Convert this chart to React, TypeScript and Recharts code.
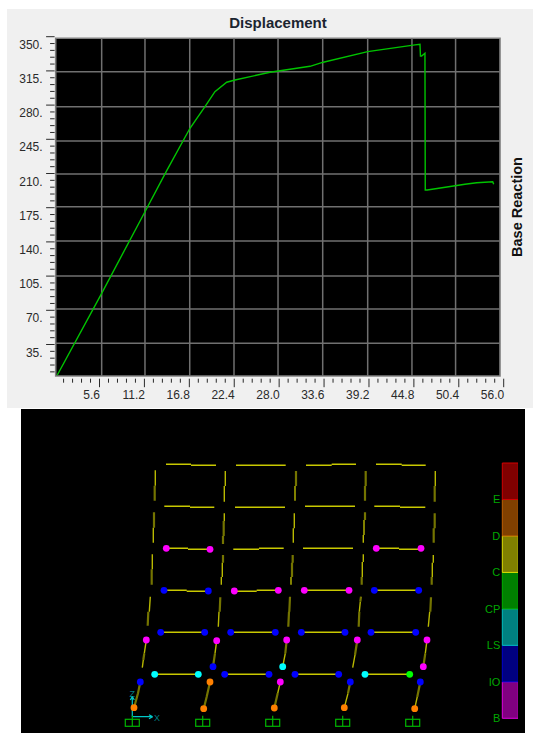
import React from "react";
import {
  Bar,
  BarChart,
  ComposedChart,
  Line,
  LineChart,
  ReferenceArea,
  ReferenceLine,
  Scatter,
  XAxis,
  YAxis,
} from "recharts";

// ---------- pushover curve ----------
const displacement = [0.34, 5.87, 11.27, 13.98, 16.88, 18.75, 19.99, 21.46, 22.49, 26.86, 31.85, 33.5, 39.04, 44.94, 45.56, 45.62, 45.77, 46.18, 46.22, 46.47, 51.17, 52.63, 54.63, 54.75];
const baseReaction = [3.8, 87.4, 170.9, 212.9, 256.3, 278.4, 293.8, 303.4, 305.7, 313.6, 319.7, 323.9, 334.7, 341.6, 342.3, 330.3, 330.3, 333, 193.1, 193.1, 199, 200.6, 201.6, 199];

const xTicks = [1.12, 2.24, 3.36, 4.48, 5.6, 6.72, 7.84, 8.96, 10.08, 11.2, 12.32, 13.44, 14.56, 15.68, 16.8, 17.92, 19.04, 20.16, 21.28, 22.4, 23.52, 24.64, 25.76, 26.88, 28, 29.12, 30.24, 31.36, 32.48, 33.6, 34.72, 35.84, 36.96, 38.08, 39.2, 40.32, 41.44, 42.56, 43.68, 44.8, 45.92, 47.04, 48.16, 49.28, 50.4, 51.52, 52.64, 53.76, 54.88, 56];
const xLabels = ["5.6", "11.2", "16.8", "22.4", "28.0", "33.6", "39.2", "44.8", "50.4", "56.0"];
const yTicks = [7, 14, 21, 28, 35, 42, 49, 56, 63, 70, 77, 84, 91, 98, 105, 112, 119, 126, 133, 140, 147, 154, 161, 168, 175, 182, 189, 196, 203, 210, 217, 224, 231, 238, 245, 252, 259, 266, 273, 280, 287, 294, 301, 308, 315, 322, 329, 336, 343, 350];
const gridX = [5.87, 11.27, 16.85, 22.37, 27.86, 33.43, 39.04, 44.56, 50.0];
const gridY = [36.2, 71.3, 105.1, 140.9, 176, 209.5, 243.3, 278.4, 314.2];
const plotX: [number, number] = [0.137, 55.54];
const plotY: [number, number] = [2.76, 348.4];

const curve = displacement.map((x, i) => ({ x, y: baseReaction[i] }));

// ---------- frame drawing (units: picture read-off) ----------
type Seg = [number, number, number, number];
const beams: Seg[] = [
  [166, 464.3, 191, 464.3], [191, 465.3, 216, 465.3], [236, 465.3, 285.7, 465.3], [306, 465.3, 331.7, 465.3], [331.7, 464.3, 356, 464.3], [376, 464.3, 401.7, 464.3], [401.7, 465.3, 425.7, 465.3],
  [164.3, 506.3, 190, 506.3], [190, 507.3, 214.3, 507.3], [235, 507.3, 285, 507.3], [305, 506.3, 355, 506.3], [374.3, 506.3, 400, 506.3], [400, 507.3, 425.3, 507.3],
  [166.3, 548.3, 188, 548.3], [188, 549.3, 210, 549.3], [233.3, 549.3, 259, 549.3], [259, 548.3, 283.7, 548.3], [303, 548.3, 353, 548.3], [376.3, 548.3, 399, 548.3], [399, 549.3, 421, 549.3],
  [164, 590.3, 186.7, 590.3], [186.7, 591.3, 208.3, 591.3], [234.3, 591.3, 256.7, 591.3], [256.7, 590.3, 278.3, 590.3], [304.3, 590.3, 349, 590.3], [374.3, 590.3, 418.7, 590.3],
  [160.7, 632.3, 204.7, 632.3], [230.7, 632.3, 275.3, 632.3], [301.3, 632.3, 345, 632.3], [371, 632.3, 415.7, 632.3],
  [154.7, 674.3, 198.3, 674.3], [224.7, 674.3, 269, 674.3], [295, 674.3, 338.7, 674.3], [365, 674.3, 409.7, 674.3],
];
const columnsBright: Seg[] = [
  [155.3, 470.3, 155.3, 485.7], [153.3, 527.7, 153.3, 542.7], [152.3, 554.3, 152.3, 569.3], [150.3, 596.7, 149.3, 611.7], [146.3, 640, 144.3, 653.3], [143.3, 660, 142.3, 667.7],
  [225.3, 471, 225.3, 486], [224.3, 486, 224.3, 501.7], [224.3, 513.3, 224.3, 521], [222.3, 562.7, 222.3, 577], [221.3, 577, 221.3, 584.7], [219, 611.7, 218.3, 626.7], [216.7, 640.7, 215, 653.3],
  [295, 486, 295, 500.7], [294.3, 513.3, 294.3, 528.3], [293.3, 528.3, 293.3, 542.7], [291, 577, 291, 584.7], [285.3, 653.3, 282.7, 666.7], [280.3, 682, 277.7, 693.3],
  [364, 520, 364, 535], [363.3, 535, 363.3, 542.7], [363.3, 554.3, 363.3, 562], [362.3, 562, 362.3, 577], [360.3, 601.7, 359.3, 611.7], [355, 655, 352.7, 667.7], [348, 693.3, 344.3, 707.7],
  [435.3, 471, 435.3, 486], [433.3, 555, 433.3, 562.7], [432.3, 562.7, 432.3, 577], [429.7, 611.7, 428.3, 626.7], [427, 640, 425.3, 653.3], [417.3, 696.7, 414.7, 708.7],
];
const columnsDark: Seg[] = [
  [154.7, 485.7, 154.7, 500.7], [154, 512.3, 154, 527.7], [151.7, 569.3, 151.7, 584.7], [148.3, 611.7, 147.7, 625.7], [144.3, 653.3, 143.3, 660], [140.3, 682, 138, 693.3], [138, 693.3, 134, 707.7],
  [223.7, 521, 223.7, 536], [223, 536, 223, 544], [223, 555, 223, 562.7], [220.3, 597.3, 219.7, 611.7], [215, 653.3, 213, 666.7], [210, 682, 206.7, 696.7], [206.7, 696.7, 203.7, 708.7],
  [296, 471, 296, 486], [292.7, 555, 292.7, 562.7], [292, 562.7, 292, 577], [290, 596.7, 289.3, 611.7], [289, 611.7, 288.3, 626.7], [286.7, 640, 285.3, 653.3], [277.7, 693.3, 274.3, 708],
  [365.7, 471, 365.7, 486], [365, 486, 365, 500.7], [365, 512.3, 365, 520], [361.7, 577, 361.7, 584.7], [361, 596.7, 360.3, 601.7], [359.3, 611.7, 358.7, 626.7], [357.3, 640, 355, 655], [350.3, 682, 348, 693.3],
  [434.7, 486, 434.7, 501.7], [434.7, 513.3, 434.7, 528.3], [433.7, 528.3, 433.7, 542.7], [431.7, 577, 431.7, 584.7], [431, 597.3, 430.3, 611.7], [425.3, 653.3, 423.3, 666.7], [420.3, 682, 417.3, 696.7],
];
const triad: Seg[] = [
  [132.3, 716.7, 132.3, 696.7], [132.3, 716.7, 152.7, 716.7],
  [130.3, 700, 132.3, 696.5], [134.3, 700, 132.3, 696.5],
  [149, 714.7, 152.7, 716.7], [149, 718.7, 152.7, 716.7],
];

type Pt = [number, number];
const magentaNodes: Pt[] = [[166.3, 548.3], [210, 549.3], [376.3, 548.3], [421, 548.3], [234.3, 591], [278.3, 590.3], [304.3, 590.3], [349, 590.3], [146.3, 640], [216.7, 640.7], [286.7, 640], [357.3, 640], [427, 640], [423.3, 666.7], [280.3, 682]];
const blueNodes: Pt[] = [[164, 590.3], [208.3, 591], [374.3, 590.3], [418.7, 590.3], [160.7, 632.3], [204.7, 632.3], [230.7, 632.3], [275.3, 632.3], [301.3, 632.3], [345, 632.3], [371, 632.3], [415.7, 632.3], [224.7, 674.3], [269, 674.3], [295, 674.3], [338.7, 674.3], [213, 666.7], [140.3, 682], [350.3, 682], [420.3, 682]];
const cyanNodes: Pt[] = [[154.7, 674.3], [198.3, 674.3], [365, 674.3], [282.7, 666.7]];
const greenNodes: Pt[] = [[409.7, 674.3]];
const orangeNodes: Pt[] = [[134, 707.7], [210, 682], [203.7, 708.7], [274.3, 708], [344.3, 707.7], [414.7, 708.7]];
const supportNodes: Pt[] = [[132.3, 726.3], [202.7, 726.3], [272.7, 726.3], [342.7, 726.3], [412.7, 726.3]];

// ---------- hinge legend ----------
const legendLevels = ["B", "IO", "LS", "CP", "C", "D", "E"];
const legendSpans = [1, 1, 1, 1, 1, 1, 1];
const legendFills = ["#800080", "#000080", "#008080", "#008000", "#808000", "#804000", "#800000"];
const legendEdges = ["#e000e0", "#0000d0", "#00c0c0", "#00b000", "#e0e000", "#c06000", "#d00000"];
const legendRow = Object.fromEntries(legendLevels.map((k, i) => [k, legendSpans[i]]));
const legendTicks = [0, 1, 2, 3, 4, 5, 6];

const toPath = (segs: Seg[]) =>
  segs.flatMap(([a, b, c, d]) => [{ x: a, y: b }, { x: c, y: d }, { x: c, y: null }]);
const toPoints = (pts: Pt[]) => pts.map(([x, y]) => ({ x, y }));

const SANS = "'Liberation Sans', Arial, sans-serif";
const INK = "#2a2a2a";

const XTick = ({ x, y, payload }: any) => {
  const major = Math.abs(payload.value / 5.6 - Math.round(payload.value / 5.6)) < 1e-6;
  const label = major ? xLabels[Math.round(payload.value / 5.6) - 1] : null;
  return (
    <g>
      <line x1={x} x2={x} y1={y} y2={y + (major ? 8.5 : 4)} stroke={INK} strokeWidth={1} />
      {label && (
        <text x={x + 0.5} y={y + 20} textAnchor="end" fontFamily={SANS} fontSize={12} fill={INK}>
          {label}
        </text>
      )}
    </g>
  );
};

const YTick = ({ x, y, payload }: any) => {
  const major = payload.value % 35 === 0;
  return (
    <g>
      <line x1={x - (major ? 8.5 : 4.5)} x2={x} y1={y} y2={y} stroke={INK} strokeWidth={1} />
      {major && (
        <text x={x - 12} y={y + 12} textAnchor="end" fontFamily={SANS} fontSize={12} fill={INK}>
          {`${payload.value}.`}
        </text>
      )}
    </g>
  );
};

const dotShape = (fill: string) => (p: any) => <circle cx={p.cx} cy={p.cy} r={3.4} fill={fill} />;
const supportShape = (p: any) => (
  <g fill="none" stroke="#00b400" strokeWidth={1.2}>
    <rect x={p.cx - 7} y={p.cy - 7} width={14} height={7} />
    <line x1={p.cx} x2={p.cx} y1={p.cy - 10.5} y2={p.cy} />
  </g>
);

const GRID = "#707070";

export default function App() {
  return (
    <div style={{ position: "absolute", left: 0, top: 0, width: 533, height: 733, background: "#fff", overflow: "hidden" }}>
      <div style={{ position: "absolute", left: 7, top: 9, width: 526, height: 399, background: "#f0f0f0" }}>
        <LineChart
          width={526}
          height={399}
          data={curve}
          margin={{ top: 27.7, right: 29.3, bottom: 0, left: 0 }}
        >
          <XAxis
            dataKey="x"
            type="number"
            domain={[0, 56]}
            ticks={xTicks}
            interval={0}
            height={29.3}
            tick={XTick}
            tickSize={0}
            tickMargin={0}
            tickLine={false}
            axisLine={false}
          />
          <YAxis
            type="number"
            domain={[0, 350]}
            ticks={yTicks}
            interval={0}
            width={47.6}
            tick={YTick}
            tickSize={0}
            tickMargin={0}
            tickLine={false}
            axisLine={false}
          />
          <ReferenceArea x1={plotX[0]} x2={plotX[1]} y1={plotY[0]} y2={plotY[1]} fill="#000" fillOpacity={1} stroke="#808080" strokeWidth={1.6} />
          {gridX.map((v) => (
            <ReferenceLine key={`gx${v}`} segment={[{ x: v, y: plotY[0] }, { x: v, y: plotY[1] }]} stroke={GRID} strokeWidth={1.5} />
          ))}
          {gridY.map((v) => (
            <ReferenceLine key={`gy${v}`} segment={[{ x: plotX[0], y: v }, { x: plotX[1], y: v }]} stroke={GRID} strokeWidth={1.5} />
          ))}
          <Line dataKey="y" type="linear" stroke="#00c400" strokeWidth={1.4} dot={false} isAnimationActive={false} />
          <text x={271} y={19} textAnchor="middle" fontFamily={SANS} fontSize={15} fontWeight="bold" fill="#1c2530">
            Displacement
          </text>
          <text
            transform="translate(514.5 198) rotate(-90)"
            textAnchor="middle"
            fontFamily={SANS}
            fontSize={14.5}
            fontWeight="bold"
            fill="#111"
          >
            Base Reaction
          </text>
        </LineChart>
      </div>

      <div style={{ position: "absolute", left: 21, top: 409, width: 504, height: 324, background: "#000" }}>
        <ComposedChart width={504} height={324} data={[]} margin={{ top: 0, right: 0, bottom: 0, left: 0 }}>
          <XAxis dataKey="x" type="number" domain={[21, 525]} hide />
          <YAxis dataKey="y" type="number" domain={[409, 733]} reversed hide />
          <Line data={toPath(columnsDark)} dataKey="y" stroke="#747400" strokeWidth={2.2} dot={false} connectNulls={false} isAnimationActive={false} />
          <Line data={toPath(columnsBright)} dataKey="y" stroke="#b8b800" strokeWidth={1.4} dot={false} connectNulls={false} isAnimationActive={false} />
          <Line data={toPath(beams)} dataKey="y" stroke="#c8c800" strokeWidth={1.4} dot={false} connectNulls={false} isAnimationActive={false} />
          <Line data={toPath(triad)} dataKey="y" stroke="#00c8c8" strokeWidth={1.2} dot={false} connectNulls={false} isAnimationActive={false} />
          <Scatter data={toPoints(supportNodes)} shape={supportShape} isAnimationActive={false} />
          <Scatter data={toPoints(magentaNodes)} shape={dotShape("#ff00ff")} isAnimationActive={false} />
          <Scatter data={toPoints(blueNodes)} shape={dotShape("#0000ff")} isAnimationActive={false} />
          <Scatter data={toPoints(cyanNodes)} shape={dotShape("#00ffff")} isAnimationActive={false} />
          <Scatter data={toPoints(greenNodes)} shape={dotShape("#00ff00")} isAnimationActive={false} />
          <Scatter data={toPoints(orangeNodes)} shape={dotShape("#ff8000")} isAnimationActive={false} />
          <text x={111.3} y={288} textAnchor="middle" fontFamily={SANS} fontSize={9} fill="#007c80">Z</text>
          <text x={136} y={311.5} textAnchor="middle" fontFamily={SANS} fontSize={9} fill="#007c80">X</text>
        </ComposedChart>
      </div>

      <div style={{ position: "absolute", left: 468, top: 453, width: 50, height: 276 }}>
        <BarChart
          width={50}
          height={276}
          data={[legendRow]}
          barCategoryGap={0}
          margin={{ top: 10, right: 0, bottom: 10.7, left: 0 }}
        >
          <XAxis dataKey={() => "levels"} hide />
          <YAxis
            type="number"
            domain={[0, 7]}
            ticks={legendTicks}
            interval={0}
            width={34.3}
            tickSize={0}
            tickMargin={2}
            tickLine={false}
            axisLine={false}
            tickFormatter={(v: number) => legendLevels[v]}
            tick={{ fill: "#00a800", fontFamily: SANS, fontSize: 11 }}
          />
          {legendLevels.map((k, i) => (
            <Bar key={k} dataKey={k} stackId="h" fill={legendFills[i]} stroke={legendEdges[i]} strokeWidth={1} isAnimationActive={false} />
          ))}
        </BarChart>
      </div>
    </div>
  );
}
